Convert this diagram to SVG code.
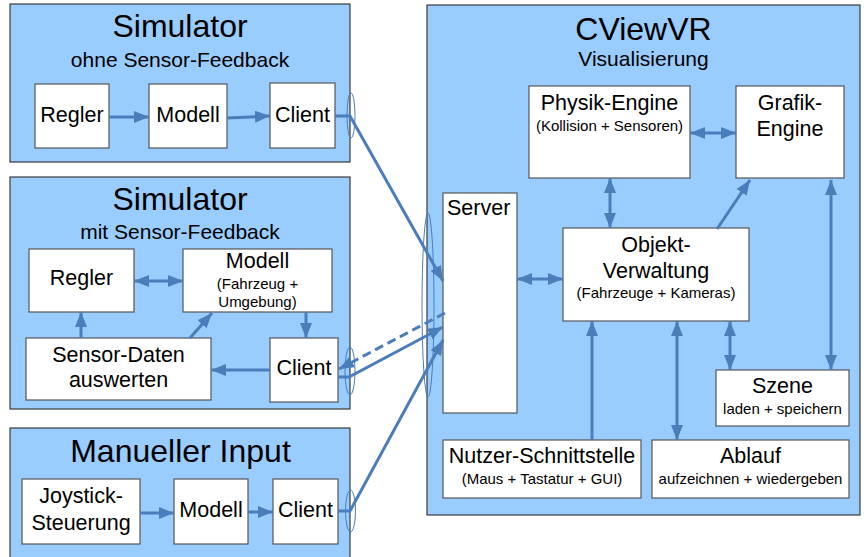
<svg xmlns="http://www.w3.org/2000/svg" width="864" height="557" viewBox="0 0 864 557">
<style>
.panel{fill:#99ccff;stroke:#3a3a3a;stroke-width:1.2}
.box{fill:#ffffff;stroke:#555555;stroke-width:1.2}
text{font-family:"Liberation Sans",Arial,sans-serif;fill:#000;text-anchor:middle}
.t{font-size:32px}
.st{font-size:21px}
.l{font-size:21.5px}
.s{font-size:15px}
.c{fill:none;stroke:#4a7ebb;stroke-width:3}
.e{fill:none;stroke:#4a7ebb;stroke-width:1}
</style>
<defs>
<marker id="ah" markerUnits="userSpaceOnUse" viewBox="0 0 15 12" refX="15" refY="6" markerWidth="15" markerHeight="12" orient="auto-start-reverse">
<path d="M0,0 L15,6 L0,12 z" fill="#4a7ebb"/>
</marker>
</defs>
<rect width="864" height="557" fill="#ffffff"/>

<g id="sim1">
<rect class="panel" x="10" y="4" width="340" height="158"/>
<text class="t" x="180" y="37">Simulator</text>
<text class="st" x="180" y="67">ohne Sensor-Feedback</text>
</g>
<g id="sim1-regler"><rect class="box" x="35" y="84" width="74" height="64"/><text class="l" x="72" y="122">Regler</text></g>
<g id="sim1-modell"><rect class="box" x="149" y="84" width="78" height="64"/><text class="l" x="188" y="122">Modell</text></g>
<g id="sim1-client"><rect class="box" x="270" y="83" width="65" height="65"/><text class="l" x="302.5" y="122">Client</text></g>

<g id="sim2">
<rect class="panel" x="10" y="177" width="340" height="232"/>
<text class="t" x="180" y="210">Simulator</text>
<text class="st" x="180" y="239">mit Sensor-Feedback</text>
</g>
<g id="sim2-regler"><rect class="box" x="29" y="249" width="105" height="63"/><text class="l" x="81.5" y="285">Regler</text></g>
<g id="sim2-modell"><rect class="box" x="183" y="249" width="149" height="63"/><text class="l" x="257.5" y="268">Modell</text><text class="s" x="257.5" y="289">(Fahrzeug +</text><text class="s" x="257.5" y="307">Umgebung)</text></g>
<g id="sim2-sensor"><rect class="box" x="26" y="338" width="185" height="62"/><text class="l" x="118.5" y="362">Sensor-Daten</text><text class="l" x="118.5" y="387">auswerten</text></g>
<g id="sim2-client"><rect class="box" x="270" y="338" width="68" height="64"/><text class="l" x="304" y="375">Client</text></g>

<g id="manual">
<rect class="panel" x="10" y="428" width="340" height="140"/>
<text class="t" x="180.5" y="462">Manueller Input</text>
</g>
<g id="man-joystick"><rect class="box" x="22" y="479" width="118" height="65"/><text class="l" x="81" y="503">Joystick-</text><text class="l" x="81" y="530">Steuerung</text></g>
<g id="man-modell"><rect class="box" x="174" y="479" width="74" height="65"/><text class="l" x="211" y="517">Modell</text></g>
<g id="man-client"><rect class="box" x="273" y="479" width="65" height="65"/><text class="l" x="305.5" y="517">Client</text></g>

<g id="cviewvr">
<rect class="panel" x="427" y="5" width="433" height="510"/>
<text class="t" x="643.5" y="40">CViewVR</text>
<text class="st" x="643.5" y="66">Visualisierung</text>
</g>
<g id="physik"><rect class="box" x="529" y="86" width="161" height="92"/><text class="l" x="609.5" y="110">Physik-Engine</text><text class="s" x="609.5" y="131">(Kollision + Sensoren)</text></g>
<g id="grafik"><rect class="box" x="736" y="86" width="108" height="92"/><text class="l" x="790" y="110">Grafik-</text><text class="l" x="790" y="136">Engine</text></g>
<g id="server"><rect class="box" x="443" y="193" width="74" height="220"/><text class="l" x="447" y="215" style="text-anchor:start">Server</text></g>
<g id="objekt"><rect class="box" x="563" y="228" width="186" height="93"/><text class="l" x="656" y="252">Objekt-</text><text class="l" x="656" y="278">Verwaltung</text><text class="s" x="656" y="298">(Fahrzeuge + Kameras)</text></g>
<g id="szene"><rect class="box" x="716" y="370" width="133" height="56"/><text class="l" x="782.5" y="393">Szene</text><text class="s" x="782.5" y="414">laden + speichern</text></g>
<g id="nutzer"><rect class="box" x="443" y="440" width="198" height="58"/><text class="l" x="542" y="463">Nutzer-Schnittstelle</text><text class="s" x="542" y="484">(Maus + Tastatur + GUI)</text></g>
<g id="ablauf"><rect class="box" x="652" y="440" width="197" height="58"/><text class="l" x="750.5" y="463">Ablauf</text><text class="s" x="750.5" y="484">aufzeichnen + wiedergeben</text></g>

<g id="connectors">
<line class="c" x1="109" y1="117" x2="149" y2="117" marker-end="url(#ah)"/>
<line class="c" x1="227" y1="118" x2="270" y2="116" marker-end="url(#ah)"/>

<line class="c" x1="134" y1="281" x2="183" y2="281" marker-start="url(#ah)" marker-end="url(#ah)"/>
<line class="c" x1="81" y1="338" x2="81" y2="312" marker-end="url(#ah)"/>
<line class="c" x1="190" y1="338" x2="212" y2="313" marker-end="url(#ah)"/>
<line class="c" x1="306" y1="312" x2="306" y2="338" marker-end="url(#ah)"/>
<line class="c" x1="270" y1="370" x2="211" y2="370" marker-end="url(#ah)"/>

<line class="c" x1="140" y1="513" x2="174" y2="513" marker-end="url(#ah)"/>
<line class="c" x1="248" y1="512" x2="273" y2="512" marker-end="url(#ah)"/>

<polyline class="c" points="335,116 350,116 443,281" marker-end="url(#ah)"/>
<polyline class="c" points="338,377 349,377 443,327" marker-end="url(#ah)"/>
<line class="c" x1="445" y1="313" x2="339" y2="369" stroke-dasharray="9,5" marker-end="url(#ah)"/>
<polyline class="c" points="338,511 350,511 443,340" marker-end="url(#ah)"/>

<ellipse class="e" cx="351" cy="115.5" rx="4" ry="22.5"/>
<ellipse class="e" cx="350" cy="371" rx="5" ry="24"/>
<ellipse class="e" cx="350.5" cy="511" rx="5" ry="21"/>
<ellipse class="e" cx="428" cy="305" rx="6" ry="92"/>

<line class="c" x1="690" y1="133" x2="736" y2="133" marker-start="url(#ah)" marker-end="url(#ah)"/>
<line class="c" x1="610" y1="178" x2="610" y2="228" marker-start="url(#ah)" marker-end="url(#ah)"/>
<line class="c" x1="717" y1="229" x2="750" y2="180" marker-end="url(#ah)"/>
<line class="c" x1="831" y1="180" x2="831" y2="370" marker-start="url(#ah)" marker-end="url(#ah)"/>
<line class="c" x1="517" y1="279" x2="563" y2="279" marker-start="url(#ah)" marker-end="url(#ah)"/>
<line class="c" x1="592" y1="440" x2="592" y2="321" marker-end="url(#ah)"/>
<line class="c" x1="677" y1="321" x2="677" y2="440" marker-start="url(#ah)" marker-end="url(#ah)"/>
<line class="c" x1="730" y1="321" x2="730" y2="370" marker-start="url(#ah)" marker-end="url(#ah)"/>
</g>
</svg>
